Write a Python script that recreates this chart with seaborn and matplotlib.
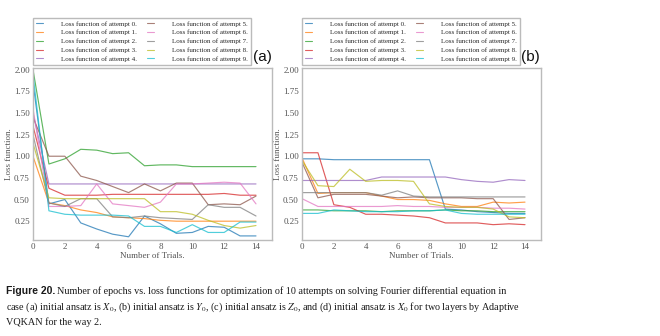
import numpy as np
import pandas as pd
import matplotlib
matplotlib.use("Agg")
import matplotlib.pyplot as plt
from matplotlib.lines import Line2D
import seaborn as sns

trials = list(range(15))
attempt_labels = [f"Loss function of attempt {i}." for i in range(10)]

# Panel (a)
a0 = [1.85, 0.45, 0.50, 0.23, 0.16, 0.10, 0.07, 0.31, 0.22, 0.11, 0.12, 0.19, 0.18, 0.08, 0.08]
a1 = [1.00, 0.46, 0.43, 0.38, 0.35, 0.30, 0.29, 0.28, 0.26, 0.25, 0.25, 0.25, 0.25, 0.25, 0.25]
a2 = [2.00, 0.91, 0.97, 1.08, 1.07, 1.03, 1.04, 0.89, 0.90, 0.90, 0.88, 0.88, 0.88, 0.88, 0.88]
a3 = [1.35, 0.63, 0.55, 0.55, 0.55, 0.56, 0.56, 0.56, 0.56, 0.56, 0.56, 0.56, 0.57, 0.55, 0.55]
a4 = [1.50, 0.68, 0.68, 0.68, 0.68, 0.68, 0.68, 0.68, 0.68, 0.68, 0.68, 0.68, 0.68, 0.68, 0.68]
a5 = [1.45, 1.00, 1.00, 0.77, 0.72, 0.65, 0.58, 0.68, 0.60, 0.69, 0.69, 0.44, 0.45, 0.44, 0.54]
a6 = [1.55, 0.42, 0.42, 0.43, 0.68, 0.45, 0.43, 0.41, 0.47, 0.68, 0.68, 0.69, 0.70, 0.69, 0.45]
a7 = [1.25, 0.46, 0.42, 0.51, 0.51, 0.30, 0.29, 0.31, 0.29, 0.28, 0.27, 0.44, 0.41, 0.41, 0.31]
a8 = [1.15, 0.52, 0.51, 0.51, 0.51, 0.51, 0.51, 0.51, 0.36, 0.36, 0.33, 0.26, 0.20, 0.17, 0.20]
a9 = [1.95, 0.37, 0.33, 0.32, 0.32, 0.32, 0.31, 0.19, 0.19, 0.12, 0.21, 0.12, 0.12, 0.24, 0.24]

# Panel (b)
b0 = [0.97, 0.97, 0.96, 0.96, 0.96, 0.96, 0.96, 0.96, 0.96, 0.39, 0.38, 0.36, 0.35, 0.34, 0.34]
b1 = [0.98, 0.57, 0.58, 0.58, 0.58, 0.54, 0.50, 0.50, 0.49, 0.45, 0.42, 0.42, 0.47, 0.46, 0.47]
b2 = [0.38, 0.38, 0.37, 0.37, 0.37, 0.36, 0.37, 0.37, 0.37, 0.38, 0.37, 0.37, 0.36, 0.36, 0.36]
b3 = [1.04, 1.04, 0.44, 0.41, 0.33, 0.33, 0.32, 0.31, 0.29, 0.23, 0.23, 0.23, 0.21, 0.22, 0.21]
b4 = [0.72, 0.72, 0.72, 0.72, 0.72, 0.76, 0.76, 0.76, 0.76, 0.76, 0.73, 0.71, 0.70, 0.73, 0.72]
b5 = [0.93, 0.52, 0.56, 0.56, 0.56, 0.54, 0.52, 0.53, 0.52, 0.52, 0.52, 0.51, 0.51, 0.27, 0.29]
b6 = [0.51, 0.42, 0.42, 0.42, 0.42, 0.42, 0.43, 0.42, 0.42, 0.41, 0.41, 0.41, 0.40, 0.40, 0.39]
b7 = [0.58, 0.58, 0.58, 0.58, 0.58, 0.55, 0.60, 0.54, 0.53, 0.53, 0.53, 0.53, 0.53, 0.53, 0.53]
b8 = [0.95, 0.66, 0.65, 0.85, 0.71, 0.72, 0.72, 0.71, 0.45, 0.42, 0.41, 0.41, 0.39, 0.30, 0.29]
b9 = [0.34, 0.34, 0.38, 0.37, 0.36, 0.36, 0.36, 0.37, 0.37, 0.38, 0.34, 0.33, 0.33, 0.33, 0.33]

x_ticks = [0, 2, 4, 6, 8, 10, 12, 14]
y_ticks = [0.25, 0.50, 0.75, 1.00, 1.25, 1.50, 1.75, 2.00]

panel_a = [a0, a1, a2, a3, a4, a5, a6, a7, a8, a9]
panel_b = [b0, b1, b2, b3, b4, b5, b6, b7, b8, b9]


def long_df(series):
    rows = []
    for i, s in enumerate(series):
        for t, v in zip(trials, s):
            rows.append({"trial": t, "loss": v, "attempt": attempt_labels[i]})
    return pd.DataFrame(rows)


sns.set_style("white")
plt.rcParams["font.family"] = ["Liberation Serif", "DejaVu Serif"]
plt.rcParams["mathtext.fontset"] = "stix"

palette = sns.color_palette("tab10", 10)
fig = plt.figure(figsize=(6.6, 3.36), dpi=100)
fig.patch.set_facecolor("white")

axes_pos = [[0.050, 0.286, 0.362, 0.512], [0.4576, 0.286, 0.362, 0.512]]
legend_anchor = [(0.050, 0.807), (0.4576, 0.807)]
panel_tags = [("(a)", 0.398), ("(b)", 0.804)]

for k, series in enumerate([panel_a, panel_b]):
    ax = fig.add_axes(axes_pos[k])
    df = long_df(series)
    sns.lineplot(data=df, x="trial", y="loss", hue="attempt", hue_order=attempt_labels,
                 palette=palette, ax=ax, legend=False, linewidth=0.85, alpha=0.75)
    ax.set_xlim(0, 15)
    ax.set_ylim(0.034, 2.02)
    ax.set_xticks(x_ticks)
    ax.set_yticks(y_ticks)
    ax.set_xticklabels([str(t) for t in x_ticks])
    ax.set_yticklabels([f"{v:.2f}" for v in y_ticks])
    ax.tick_params(axis="both", labelsize=6.5, colors="#555555", length=1.5, width=0.6,
                   pad=0.8, direction="out")
    for sp in ax.spines.values():
        sp.set_color("#bbbbbb")
        sp.set_linewidth(1.0)
    ax.set_xlabel("Number of Trials.", fontsize=6.5, color="#555555", labelpad=1)
    ax.set_ylabel("Loss function.", fontsize=6.5, color="#555555", labelpad=1)
    handles = [Line2D([0], [0], color=palette[i], lw=0.8, alpha=0.75) for i in range(10)]
    fig.legend(handles, attempt_labels, loc="lower left",
               bbox_to_anchor=legend_anchor[k], ncol=2,
               fontsize=5, labelspacing=0.42, handlelength=1.0,
               handletextpad=2.6, columnspacing=1.4, borderpad=0.45,
               frameon=True, fancybox=False, edgecolor="#aaaaaa",
               borderaxespad=0)
    fig.text(panel_tags[k][1], 0.829, panel_tags[k][0], fontsize=11,
             family=["Liberation Sans", "DejaVu Sans"], ha="center", va="center",
             color="#111111")

cap_color = "#1a1a1a"
fig.text(6 / 660, 1 - 291 / 336, "Figure 20.", fontsize=7.5, fontweight="bold",
         family=["Liberation Sans", "DejaVu Sans"], va="center", ha="left", color=cap_color)
fig.text(57 / 660, 1 - 291 / 336,
         "Number of epochs vs. loss functions for optimization of 10 attempts on solving Fourier differential equation in",
         fontsize=7.3, va="center", ha="left", color=cap_color)
fig.text(6 / 660, 1 - 307 / 336,
         r"case (a) initial ansatz is $X_0$, (b) initial ansatz is $Y_0$, (c) initial ansatz is $Z_0$, and (d) initial ansatz is $X_0$ for two layers by Adaptive",
         fontsize=7.3, va="center", ha="left", color=cap_color)
fig.text(6 / 660, 1 - 322 / 336, "VQKAN for the way 2.",
         fontsize=7.3, va="center", ha="left", color=cap_color)

fig.savefig("out.png", dpi=100, facecolor="white")
